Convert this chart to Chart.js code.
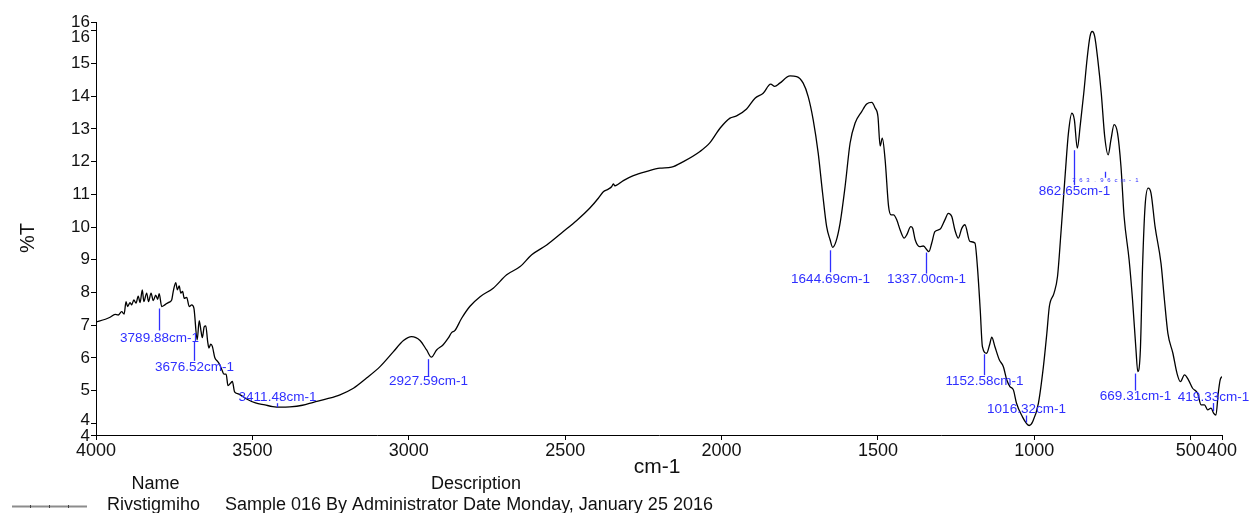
<!DOCTYPE html>
<html>
<head>
<meta charset="utf-8">
<title>IR spectrum – Rivstigmiho</title>
<script src="https://cdn.jsdelivr.net/npm/chart.js@4.4.1/dist/chart.umd.min.js"></script>
<style>
  html, body { margin: 0; padding: 0; background: #fff; }
  #wrap { width: 1251px; height: 513px; position: relative; }
</style>
</head>
<body>
<div id="wrap"><canvas id="spectrum" width="1251" height="513"></canvas></div>
<script>
// Wavenumber (cm-1) and transmittance (%T) of the recorded spectrum
const wavenumbers = [
  4000, 3970, 3955, 3939, 3929, 3918, 3910, 3904, 3899, 3891,
  3886, 3879, 3872, 3865, 3859, 3852, 3847, 3838, 3832, 3824,
  3817, 3809, 3803, 3798, 3789.88, 3780, 3769, 3758, 3753, 3745,
  3740, 3734, 3729, 3723, 3718, 3710, 3702, 3694, 3687, 3676.52,
  3670, 3664, 3660, 3654, 3649, 3643, 3639, 3633, 3628, 3620,
  3612, 3604, 3597, 3591, 3584, 3578, 3570, 3564, 3557, 3545,
  3520, 3490, 3460, 3435, 3411.48, 3380, 3340, 3305, 3260, 3220,
  3177, 3135, 3092, 3049, 3017, 2991, 2964, 2943, 2927.59, 2911,
  2890, 2874, 2863, 2853, 2831, 2805, 2772, 2730, 2687, 2644,
  2607, 2559, 2506, 2463, 2421, 2394, 2378, 2362, 2351, 2346,
  2341, 2314, 2282, 2239, 2197, 2160, 2122, 2069, 2037, 2005,
  1973, 1952, 1920, 1893, 1867, 1843, 1830, 1814, 1781, 1760,
  1739, 1723, 1707, 1691, 1677, 1664, 1653, 1644.69, 1634, 1621,
  1605, 1589, 1573, 1552, 1536, 1520, 1509, 1500, 1493, 1486,
  1477, 1466, 1458, 1450, 1440, 1429, 1416, 1408, 1395, 1389,
  1381, 1367, 1355, 1337.00, 1328, 1318, 1302, 1286, 1275, 1264,
  1254, 1243, 1232, 1222, 1206, 1190, 1182, 1173, 1166, 1152.58,
  1143, 1136, 1126, 1112, 1099, 1088, 1078, 1067, 1057, 1041,
  1016.32, 1005, 987, 971, 960, 952, 937, 926, 915, 901,
  891, 880, 872, 862.65, 853, 842, 831, 822, 815, 807,
  797, 786, 775, 763.96, 755, 745, 734, 723, 713, 697,
  686, 675, 669.31, 661, 654, 646, 636, 627, 614, 595,
  584, 573, 557, 544, 533, 520, 507, 494, 478, 467,
  456, 446, 435, 427, 419.33, 412, 406, 400
];
const transmittance = [
  7.10, 7.18, 7.24, 7.33, 7.31, 7.41, 7.34, 7.72, 7.57, 7.69,
  7.62, 7.77, 7.67, 7.89, 7.69, 8.08, 7.72, 7.98, 7.72, 7.98,
  7.75, 7.92, 7.79, 7.96, 7.57, 7.62, 7.69, 7.77, 8.03, 8.30,
  8.08, 8.20, 7.98, 8.03, 7.82, 7.85, 7.57, 7.62, 7.52, 6.55,
  7.14, 6.80, 6.62, 6.95, 6.98, 6.50, 6.30, 6.42, 6.35, 6.00,
  5.90, 5.78, 5.62, 5.50, 5.50, 5.15, 5.22, 5.28, 4.96, 4.90,
  4.75, 4.62, 4.56, 4.51, 4.49, 4.50, 4.55, 4.64, 4.75, 4.87,
  5.07, 5.38, 5.73, 6.19, 6.53, 6.65, 6.53, 6.24, 6.02, 6.24,
  6.40, 6.60, 6.77, 6.83, 7.21, 7.57, 7.87, 8.13, 8.54, 8.79,
  9.15, 9.45, 9.86, 10.20, 10.58, 10.88, 11.08, 11.16, 11.24, 11.32,
  11.26, 11.42, 11.57, 11.70, 11.80, 11.83, 12.00, 12.31, 12.58, 13.02,
  13.33, 13.40, 13.61, 13.94, 14.09, 14.37, 14.30, 14.40, 14.62, 14.60,
  14.40, 13.99, 13.28, 12.26, 11.04, 10.01, 9.61, 9.38, 9.56, 10.12,
  11.24, 12.57, 13.18, 13.53, 13.76, 13.81, 13.64, 13.38, 12.48, 12.72,
  12.05, 10.63, 10.37, 10.37, 10.22, 9.91, 9.66, 9.76, 10.01, 9.96,
  9.61, 9.40, 9.42, 9.25, 9.51, 9.86, 9.93, 10.22, 10.42, 10.32,
  9.91, 9.66, 9.96, 10.07, 9.56, 9.51, 8.79, 7.47, 6.34, 6.14,
  6.40, 6.63, 6.34, 5.94, 5.73, 5.32, 5.12, 5.02, 4.61, 4.25,
  3.93, 4.05, 4.61, 5.73, 6.75, 7.57, 7.98, 8.48, 9.81, 11.65,
  12.87, 13.48, 13.28, 12.41, 13.13, 14.09, 15.17, 15.83, 15.98, 15.83,
  15.11, 14.09, 12.77, 12.21, 12.67, 13.13, 12.87, 11.85, 10.32, 9.00,
  7.77, 6.24, 5.58, 6.24, 8.79, 10.63, 11.19, 11.04, 10.01, 8.89,
  7.77, 6.75, 6.14, 5.53, 5.27, 5.48, 5.32, 5.07, 4.92, 4.56,
  4.56, 4.41, 4.46, 4.31, 4.25, 4.92, 5.32, 5.43
];

// Picked peaks (cm-1)
const peakPositions = [3789.88, 3676.52, 3411.48, 2927.59, 1644.69, 1337.00,
                       1152.58, 1016.32, 862.65, 763.96, 669.31, 419.33];

// Axis ticks
const xTicks = [4000, 3500, 3000, 2500, 2000, 1500, 1000, 500, 400];
const yMin = 3.64, yMax = 16.27;
const yTicks = [yMin, 4, 5, 6, 7, 8, 9, 10, 11, 12, 13, 14, 15, 16, yMax];

// Legend table
const legendHeaders = ['Name', 'Description'];
const sampleName = 'Rivstigmiho';
const sampleDescription = 'Sample 016 By Administrator Date Monday, January 25 2016';
const xTitle = 'cm-1';
const yTitle = '%T';

// ---- styling / layout (pixels) ----
const FONT = '"Liberation Sans", Arial, sans-serif';
const PEAK_BLUE = '#2f2fff';
// per-peak marker: [line start, line end, label centre] offsets below the curve point
const peakLayout = [
  [2, 24, 32], [2, 21, 27], [-4, 0, -10], [2, 19, 24],
  [3, 25, 32], [1, 22, 28], [1, 22, 28], [-10, -3, -16],
  [2, 37, 43], [17, 23, 26], [2, 19, 25], [-12, -4, -18]
];
const peakTinyLabel = [false, false, false, false, false, false,
                       false, false, false, true, false, false];
// small vertical nudges of crowded y tick labels
const yLabelNudge = [1, -2.5, 0, 0, 0, 0, 0, 0, 0, 0, 0, 0, 0, 6.5, 0];

const points = wavenumbers.map((w, i) => ({ x: w, y: transmittance[i] }));

const peakMarks = {
  id: 'peakMarks',
  afterDatasetsDraw(chart) {
    const { ctx } = chart;
    const xs = chart.scales.x, ys = chart.scales.y;
    ctx.save();
    ctx.strokeStyle = PEAK_BLUE;
    ctx.fillStyle = PEAK_BLUE;
    ctx.lineWidth = 1.3;
    peakPositions.forEach((p, i) => {
      const v = transmittance[wavenumbers.indexOf(p)];
      const px = Math.round(xs.getPixelForValue(p)) - 3 + 0.5;
      const py = ys.getPixelForValue(v);
      const [a, b, t] = peakLayout[i];
      ctx.beginPath();
      ctx.moveTo(px, py + a);
      ctx.lineTo(px, py + b);
      ctx.stroke();
      const text = p.toFixed(2) + 'cm-1';
      ctx.textBaseline = 'middle';
      ctx.textAlign = 'center';
      if (peakTinyLabel[i]) {
        ctx.font = '6px ' + FONT;
        const pitch = 7;
        const start = px - pitch * (text.length - 1) / 2;
        for (let k = 0; k < text.length; k++) ctx.fillText(text[k], start + k * pitch, py + t);
      } else {
        ctx.font = '13.5px ' + FONT;
        ctx.fillText(text, px, py + t);
      }
    });
    ctx.restore();
  }
};

const tickLabelNudge = {
  id: 'tickLabelNudge',
  beforeDraw(chart) {
    const s = chart.scales.y;
    if (!s || typeof s.getLabelItems !== 'function') return;
    const items = s.getLabelItems(chart.chartArea);
    if (!items || items._nudged) return;
    items.forEach((it, i) => {
      if (yLabelNudge[i] && it.options && it.options.translation) it.options.translation[1] += yLabelNudge[i];
    });
    items._nudged = true;
  }
};

const frameText = {
  id: 'frameText',
  afterDraw(chart) {
    const { ctx } = chart;
    ctx.save();
    ctx.fillStyle = '#111';
    // y title
    ctx.save();
    ctx.translate(28, 238);
    ctx.rotate(-Math.PI / 2);
    ctx.textAlign = 'center';
    ctx.textBaseline = 'middle';
    ctx.font = '20px ' + FONT;
    ctx.fillText(yTitle, 0, 0);
    ctx.restore();
    // x title
    ctx.textAlign = 'center';
    ctx.textBaseline = 'middle';
    ctx.font = '21px ' + FONT;
    ctx.fillText(xTitle, 657, 467);
    // legend table
    ctx.textBaseline = 'alphabetic';
    ctx.font = '18px ' + FONT;
    ctx.fillText(legendHeaders[0], 155.5, 489);
    ctx.fillText(legendHeaders[1], 476, 489);
    ctx.textAlign = 'left';
    ctx.fillText(sampleName, 107, 509.5);
    ctx.fillText(sampleDescription, 225, 509.5);
    // legend line sample
    ctx.strokeStyle = '#8c8c8c';
    ctx.lineWidth = 2;
    ctx.beginPath();
    ctx.moveTo(12, 506.5);
    ctx.lineTo(87, 506.5);
    ctx.stroke();
    ctx.fillStyle = '#444';
    [30, 49, 68].forEach(x => ctx.fillRect(x, 505, 1, 3));
    ctx.restore();
  }
};

new Chart(document.getElementById('spectrum'), {
  type: 'line',
  data: {
    datasets: [{
      label: sampleName,
      data: points,
      borderColor: '#000',
      borderWidth: 1.3,
      pointRadius: 0,
      fill: false,
      cubicInterpolationMode: 'monotone'
    }]
  },
  options: {
    responsive: false,
    animation: false,
    devicePixelRatio: 1,
    layout: { padding: { left: 0, right: 29, top: 22, bottom: 0 } },
    plugins: {
      legend: { display: false },
      tooltip: { enabled: false },
      title: { display: false }
    },
    scales: {
      x: {
        type: 'linear',
        reverse: true,
        min: 400,
        max: 4000,
        offset: false,
        afterBuildTicks: s => { s.ticks = xTicks.map(v => ({ value: v })); },
        afterFit: s => { s.height = 78; },
        ticks: {
          autoSkip: false,
          maxRotation: 0,
          padding: 0,
          color: '#111',
          font: { family: FONT, size: 18 },
          callback: v => String(v)
        },
        grid: { drawOnChartArea: false, drawTicks: true, tickLength: 5, color: '#000', tickColor: '#000', tickWidth: 1 },
        border: { display: true, color: '#000', width: 1 }
      },
      y: {
        type: 'linear',
        min: yMin,
        max: yMax,
        afterBuildTicks: s => { s.ticks = yTicks.map(v => ({ value: v })); },
        afterFit: s => { s.width = 96; },
        ticks: {
          autoSkip: false,
          padding: 1,
          color: '#111',
          font: { family: FONT, size: 17 },
          callback: v => String(Math.round(v))
        },
        grid: { drawOnChartArea: false, drawTicks: true, tickLength: 5, color: '#000', tickColor: '#000', tickWidth: 1 },
        border: { display: true, color: '#000', width: 1 }
      }
    }
  },
  plugins: [tickLabelNudge, peakMarks, frameText]
});
</script>
</body>
</html>
